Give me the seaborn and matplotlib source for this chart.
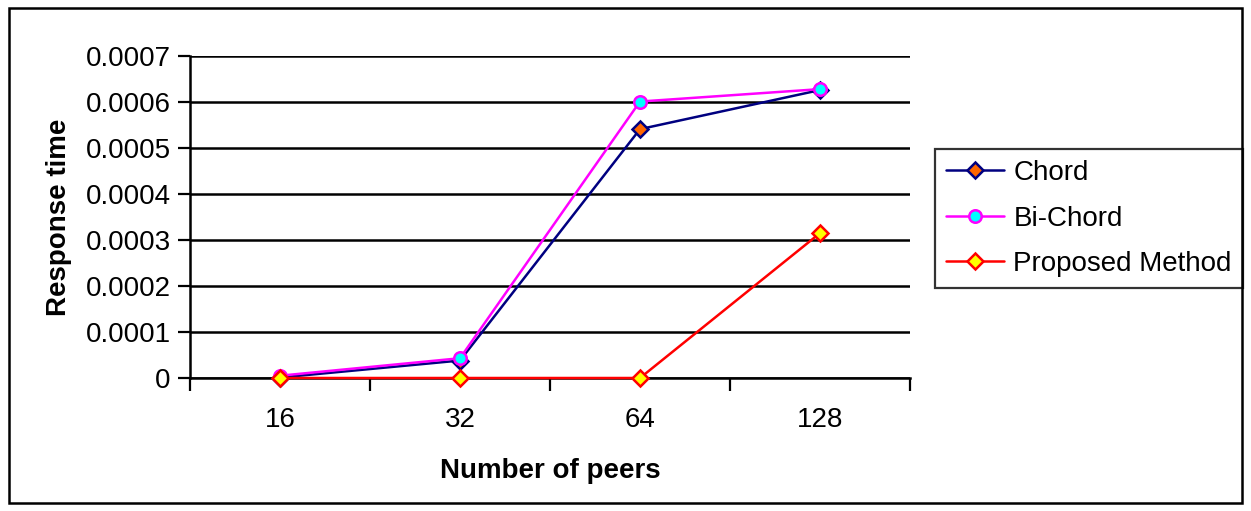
import matplotlib
matplotlib.use("Agg")
import matplotlib.pyplot as plt
import matplotlib.patches as mpatches
from matplotlib.ticker import FixedLocator, NullFormatter, FixedFormatter
import pandas as pd
import seaborn as sns

peers = ["16", "32", "64", "128"]
chord = [0.000001, 0.000038, 0.000541, 0.000626]
bi_chord = [0.000005, 0.000043, 0.000601, 0.000628]
proposed = [0.0, 0.0, 0.0, 0.000315]
y_ticks = [0, 0.0001, 0.0002, 0.0003, 0.0004, 0.0005, 0.0006, 0.0007]
y_labels = ["0", "0.0001", "0.0002", "0.0003", "0.0004", "0.0005", "0.0006", "0.0007"]

sns.set_style("white")
plt.rcParams["font.family"] = ["Liberation Sans", "DejaVu Sans"]
plt.rcParams["text.color"] = "black"
plt.rcParams["axes.labelcolor"] = "black"
plt.rcParams["xtick.color"] = "black"
plt.rcParams["ytick.color"] = "black"

df = pd.DataFrame({
    "peers": peers * 3,
    "time": chord + bi_chord + proposed,
    "method": ["Chord"] * 4 + ["Bi-Chord"] * 4 + ["Proposed Method"] * 4,
})

fig = plt.figure(figsize=(12.51, 5.11), dpi=100)
ax = fig.add_axes([190 / 1251, 1 - 378 / 511, 720 / 1251, 322 / 511])

styles = {
    "Chord": dict(color="#000080", marker="D", mfc="#FF6600", mec="#000080", ms=8),
    "Bi-Chord": dict(color="#FF00FF", marker="o", mfc="#00FFFF", mec="#FF00FF", ms=9),
    "Proposed Method": dict(color="#FF0000", marker="D", mfc="#FFFF00", mec="#FF0000", ms=8),
}
for i, (name, st) in enumerate(styles.items()):
    sub = df[df["method"] == name]
    sns.lineplot(data=sub, x="peers", y="time", ax=ax, color=st["color"],
                 marker=st["marker"], markerfacecolor=st["mfc"],
                 markeredgecolor=st["mec"], markeredgewidth=1.8,
                 markersize=st["ms"], linewidth=1.8, label=name, sort=False,
                 zorder=5 + i, clip_on=False)

ax.set_xlim(-0.5, 3.5)
ax.set_ylim(0, 0.0007)

# category labels centred, tick marks on the category boundaries
ax.xaxis.set_major_locator(FixedLocator([-0.5, 0.5, 1.5, 2.5, 3.5]))
ax.xaxis.set_major_formatter(NullFormatter())
ax.xaxis.set_minor_locator(FixedLocator([0, 1, 2, 3]))
ax.xaxis.set_minor_formatter(FixedFormatter(peers))
ax.tick_params(axis="x", which="major", direction="out", length=9, width=1.6,
               color="black", bottom=True)
ax.tick_params(axis="x", which="minor", length=0, labelsize=20, pad=21)

ax.set_yticks(y_ticks)
ax.set_yticklabels(y_labels)
ax.tick_params(axis="y", direction="out", length=9, width=1.6, color="black",
               labelsize=20, pad=5, left=True)

ax.grid(axis="y", color="black", linewidth=1.8)
ax.set_axisbelow(True)
for side in ["top", "right"]:
    ax.spines[side].set_visible(False)
for side in ["left", "bottom"]:
    ax.spines[side].set_color("black")
    ax.spines[side].set_linewidth(1.8)

ax.set_xlabel("Number of peers", fontsize=20, fontweight="bold", labelpad=18)
ax.set_ylabel("Response time", fontsize=20, fontweight="bold", labelpad=10)

leg = ax.legend(loc="upper left", bbox_to_anchor=(935 / 1251, 1 - 149 / 511),
                bbox_transform=fig.transFigure, fontsize=20, frameon=True,
                fancybox=False, edgecolor="black", handlelength=2.1,
                handletextpad=0.32, borderpad=0.4, labelspacing=0.7,
                borderaxespad=0)
leg.get_frame().set_linewidth(1.6)

fig.patches.append(mpatches.Rectangle((9 / 1251, 8 / 511), 1233 / 1251, 495 / 511,
                                      transform=fig.transFigure, fill=False,
                                      edgecolor="black", linewidth=1.8))

fig.savefig("out.png", dpi=100)
